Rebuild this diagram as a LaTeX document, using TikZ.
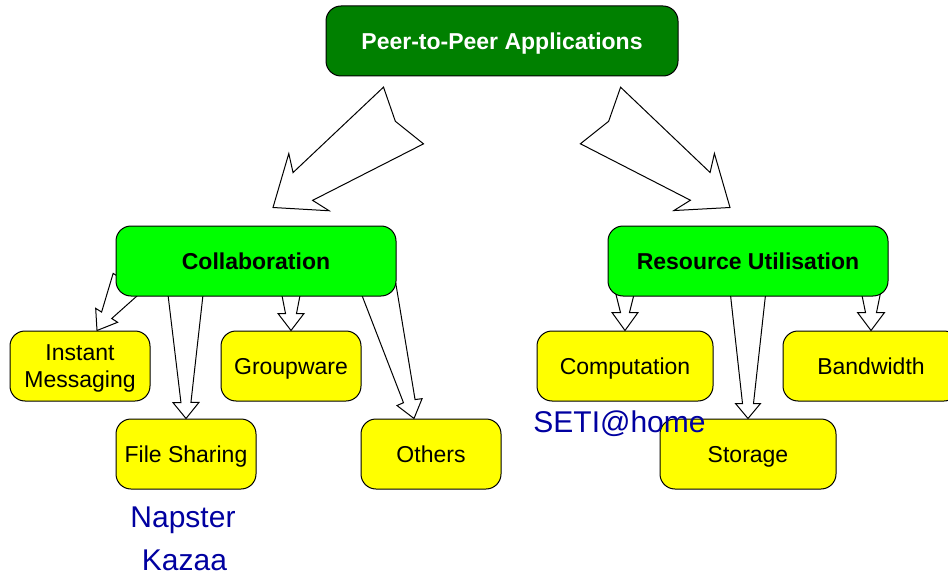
\documentclass[tikz,border=0pt]{standalone}
\usepackage{fontspec}
\setmainfont{Liberation Sans}
\usetikzlibrary{calc, backgrounds}

\definecolor{appgreen}{RGB}{0,128,0}
\definecolor{groupgreen}{RGB}{0,255,0}
\definecolor{leafyellow}{RGB}{255,255,0}
\definecolor{exampleblue}{RGB}{0,0,160}

% tapered block arrow: base, tip, base half, neck half, head half, neck dist, barb dist, notch
\newcommand{\blockarrow}[8]{%
  \coordinate (ba-n) at ($(#2)!#6!(#1)$);
  \coordinate (ba-h) at ($(#2)!#7!(#1)$);
  \draw[hollow] ($(#1)!#3!90:(#2)$) -- ($(#1)!#8!(#2)$) -- ($(#1)!#3!-90:(#2)$)
    -- ($(ba-n)!#4!-90:(#2)$) -- ($(ba-h)!#5!-90:(#2)$) -- (#2)
    -- ($(ba-h)!#5!90:(#2)$) -- ($(ba-n)!#4!90:(#2)$) -- cycle;
}

\begin{document}
\begin{tikzpicture}[x=1pt, y=-1pt,
  box/.style={rectangle, draw, line width=1pt, rounded corners=15pt, minimum height=70pt,
              inner sep=0pt, text depth=0pt, align=center, font=\fontsize{23}{27}\selectfont},
  topbox/.style={box, fill=appgreen, text=white, minimum width=352pt,
                 font=\fontsize{23}{27}\selectfont\bfseries},
  midbox/.style={box, fill=groupgreen, minimum width=280pt,
                 font=\fontsize{23}{27}\selectfont\bfseries},
  leafbox/.style={box, fill=leafyellow, minimum width=140pt},
  wideleaf/.style={leafbox, minimum width=176pt},
  example/.style={text=exampleblue, inner sep=0pt, anchor=base, font=\fontsize{30}{36}\selectfont},
  hollow/.style={draw, fill=white, line width=1pt, line join=miter}
]
  \useasboundingbox (0,0) rectangle (948,575);
  \clip (0,0) rectangle (948,575);

  \node[topbox] (app) at (502,41) {Peer-to-Peer Applications};
  \node[midbox] (collab) at (256,261) {Collaboration};
  \node[midbox] (resource) at (748,261) {Resource Utilisation};

  \node[leafbox] (im) at (80,366) {Instant\\Messaging};
  \node[leafbox] (groupware) at (291,366) {Groupware};
  \node[leafbox] (files) at (186,454) {File Sharing};
  \node[leafbox] (others) at (431,454) {Others};
  \node[wideleaf] (comp) at (625,366) {Computation};
  \node[wideleaf] (bandwidth) at (871,366) {Bandwidth};
  \node[wideleaf] (storage) at (748,454) {Storage};

  \node[example] (napster) at (183,527) {Napster};
  \node[example] (kazaa) at (184.5,570) {Kazaa};
  \node[example] (seti) at (619.5,432) {SETI@home};

  \coordinate (collab-a) at ($(app.south)+(-98.5,39)$);
  \coordinate (collab-b) at ($(collab.north)+(17,-18)$);
  \coordinate (resource-a) at ($(app.south)+(98.5,39)$);
  \coordinate (resource-b) at ($(resource.north)+(-18,-18)$);
  \coordinate (im-a) at ($(collab.south west)+(12,-14)$);
  \coordinate (im-b) at ($(im.north)+(17,0)$);
  \coordinate (groupware-a) at ($(collab.south -| groupware.north)+(0,-6)$);
  \coordinate (files-a) at ($(collab.south -| files.north)+(-0.5,-6)$);
  \coordinate (others-a) at ($(collab.south east)+(-18,-8)$);
  \coordinate (others-b) at ($(others.north)+(-17,0)$);
  \coordinate (comp-a) at ($(resource.south -| comp.north)+(0,-6)$);
  \coordinate (storage-a) at ($(resource.south)+(0,-6)$);
  \coordinate (bandwidth-a) at ($(resource.south -| bandwidth.north)+(0,-6)$);

  \begin{scope}[on background layer]
    \blockarrow{collab-a}{collab-b}{34.7pt}{17pt}{35pt}{36.5pt}{44pt}{10pt}
    \blockarrow{resource-a}{resource-b}{34.7pt}{17pt}{35pt}{36.5pt}{44pt}{10pt}
    \blockarrow{im-a}{im-b}{17pt}{6pt}{13pt}{18pt}{18pt}{0pt}
    \blockarrow{groupware-a}{groupware.north}{10pt}{5.5pt}{13pt}{17pt}{17pt}{0pt}
    \blockarrow{files-a}{files.north}{18pt}{5pt}{13pt}{16pt}{16pt}{0pt}
    \blockarrow{others-a}{others-b}{18pt}{6pt}{13pt}{18pt}{17pt}{0pt}
    \blockarrow{comp-a}{comp.north}{10pt}{4.5pt}{13pt}{18pt}{18pt}{0pt}
    \blockarrow{storage-a}{storage.north}{18pt}{5.5pt}{12.5pt}{15pt}{15pt}{0pt}
    \blockarrow{bandwidth-a}{bandwidth.north}{10pt}{5.5pt}{13.5pt}{18pt}{18pt}{0pt}
  \end{scope}
\end{tikzpicture}
\end{document}
